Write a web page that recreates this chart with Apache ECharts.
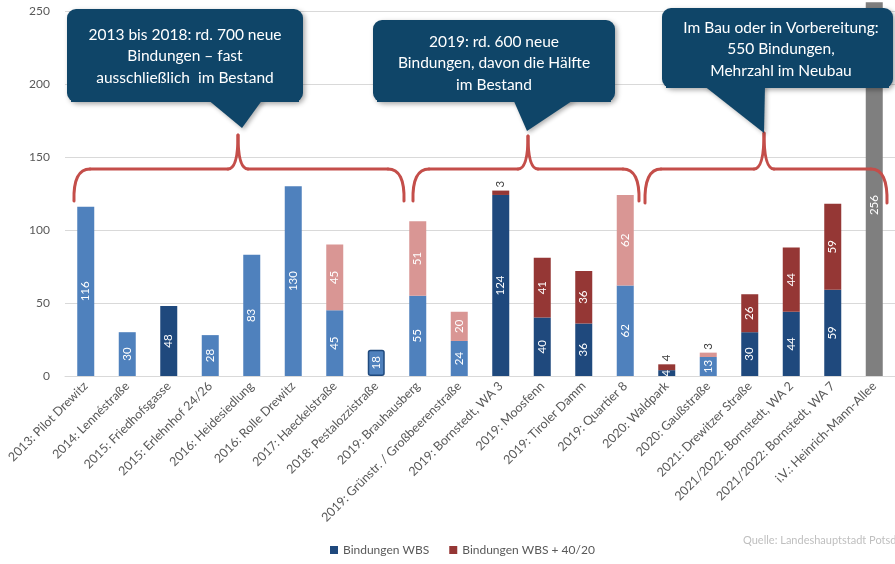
<!DOCTYPE html>
<html>
<head>
<meta charset="utf-8">
<script src="https://cdn.jsdelivr.net/npm/echarts@6/dist/echarts.min.js"></script>
<style>
  html, body { margin: 0; padding: 0; background: #fff; }
  #chart { width: 895px; height: 564px; }
</style>
</head>
<body>
<div id="chart"></div>
<script>
// ---- data ----
const categories = [
  '2013: Pilot Drewitz', '2014: Lennéstraße', '2015: Friedhofsgasse', '2015: Erlehnhof 24/26',
  '2016: Heidesiedlung', '2016: Rolle Drewitz', '2017: Haeckelstraße', '2018: Pestalozzistraße',
  '2019: Brauhausberg', '2019: Grünstr. / Großbeerenstraße', '2019: Bornstedt, WA 3', '2019: Moosfenn',
  '2019: Tiroler Damm', '2019: Quartier 8', '2020: Waldpark', '2020: Gaußstraße',
  '2021: Drewitzer Straße', '2021/2022: Bornstedt, WA 2', '2021/2022: Bornstedt, WA 7', 'i.V.: Heinrich-Mann-Allee'
];
const wbs      = [116, 30, 48, 28, 83, 130, 45, 18, 55, 24, 124, 40, 36, 62, 4, 13, 30, 44, 59, 256];
const wbsPlus  = [null, null, null, null, null, null, 45, null, 51, 20, 3, 41, 36, 62, 4, 3, 26, 44, 59, null];
// project type: B = Bestand, N = Neubau, BN = mixed, V = in Vorbereitung
const projectType = ['B','B','N','B','B','B','B','BN','B','B','N','N','N','B','N','B','N','N','N','V'];
const yTicks = [0, 50, 100, 150, 200, 250];
const seriesNames = ['Bindungen WBS', 'Bindungen WBS + 40/20'];
const callouts = [
  '2013 bis 2018: rd. 700 neue\nBindungen – fast\nausschließlich  im Bestand',
  '2019: rd. 600 neue\nBindungen, davon die Hälfte\nim Bestand',
  'Im Bau oder in Vorbereitung:\n550 Bindungen,\nMehrzahl im Neubau'
];
const sourceText = 'Quelle: Landeshauptstadt Potsdam';

// ---- styles ----
const FONT = 'Lato, "Liberation Sans", sans-serif';
const C = {
  lightBlue: '#4F81BD', darkBlue: '#1F497D', pink: '#D99694', darkRed: '#953735', gray: '#7F7F7F',
  box: '#0F4568', brace: '#C44E4A', text: '#595959'
};

const wbsData = wbs.map((v, i) => {
  const t = projectType[i];
  const it = { value: v, itemStyle: {} };
  if (t === 'N') it.itemStyle.color = C.darkBlue;
  else if (t === 'V') {
    it.itemStyle.color = C.gray;
    it.label = { position: 'inside', offset: [-16, 0] };
  }
  else if (t === 'BN') { it.itemStyle.color = C.lightBlue; it.itemStyle.borderColor = C.darkBlue; it.itemStyle.borderWidth = 1.5; it.itemStyle.borderRadius = 2; }
  else it.itemStyle.color = C.lightBlue;
  return it;
});
const plusData = wbsPlus.map((v, i) => {
  if (v == null) return '-';
  const t = projectType[i];
  const it = { value: v, itemStyle: { color: t === 'N' ? C.darkRed : C.pink } };
  if (v <= 5) {
    it.label = { position: 'top', distance: 3, color: '#404040', align: 'left', verticalAlign: 'middle' };
  }
  return it;
});

const labelBase = {
  show: true, position: 'inside', rotate: 90, color: '#fff', fontFamily: FONT, fontSize: 11.5
};

function brace(x1, x2, xc, yLine, yEnd, yPeak) {
  const st = { stroke: C.brace, lineWidth: 3, fill: null, lineCap: 'round' };
  const r = 16;
  const els = [
    { type: 'bezierCurve', shape: { x1: x1, y1: yEnd, x2: x1 + r, y2: yLine, cpx1: x1 - 1, cpy1: yLine } },
    { type: 'line', shape: { x1: x1 + r, y1: yLine, x2: xc - 10, y2: yLine } },
    { type: 'bezierCurve', shape: { x1: xc - 10, y1: yLine, x2: xc, y2: yPeak, cpx1: xc, cpy1: yLine } },
    { type: 'bezierCurve', shape: { x1: xc, y1: yPeak, x2: xc + 10, y2: yLine, cpx1: xc, cpy1: yLine } },
    { type: 'line', shape: { x1: xc + 10, y1: yLine, x2: x2 - r, y2: yLine } },
    { type: 'bezierCurve', shape: { x1: x2 - r, y1: yLine, x2: x2, y2: yEnd, cpx1: x2 + 1, cpy1: yLine } }
  ];
  els.forEach(e => { e.style = st; e.z = 90; });
  return { type: 'group', children: els };
}

function callout(i, rect, tri, cx, ty) {
  return {
    type: 'group',
    children: [
      { type: 'rect', z: 100, shape: { x: rect[0], y: rect[1], width: rect[2], height: rect[3], r: 9 },
        style: { fill: C.box, shadowBlur: 5, shadowOffsetX: 2, shadowOffsetY: 2, shadowColor: 'rgba(0,0,0,0.35)' } },
      { type: 'polygon', z: 100, shape: { points: tri },
        style: { fill: C.box, shadowBlur: 4, shadowOffsetX: 2, shadowOffsetY: 2, shadowColor: 'rgba(0,0,0,0.3)' } },
      { type: 'rect', z: 101, shape: { x: rect[0] + 4, y: rect[1] + rect[3] - 10, width: rect[2] - 8, height: 10 },
        style: { fill: C.box } },
      { type: 'text', z: 102, style: { x: cx, y: ty, text: callouts[i], fill: '#fff', font: '15.5px ' + FONT,
        align: 'center', verticalAlign: 'top', lineHeight: 21.5 } }
    ]
  };
}

const chart = echarts.init(document.getElementById('chart'), null, { renderer: 'canvas' });
chart.setOption({
  animation: false,
  backgroundColor: '#fff',
  grid: { left: 65, top: 11, width: 836, height: 365, containLabel: false },
  xAxis: {
    type: 'category', data: categories,
    axisLine: { lineStyle: { color: '#D9D9D9' } },
    axisTick: { show: false },
    axisLabel: { interval: 0, rotate: 45, margin: 8, color: C.text, fontFamily: FONT, fontSize: 12.5 }
  },
  yAxis: {
    type: 'value', min: yTicks[0], max: yTicks[yTicks.length - 1], interval: 50,
    axisLine: { show: false }, axisTick: { show: false },
    splitLine: { lineStyle: { color: '#D9D9D9' } },
    axisLabel: { color: C.text, fontFamily: FONT, fontSize: 12, margin: 15 }
  },
  legend: {
    data: seriesNames, left: 330, top: 544, padding: 0, icon: 'rect', itemWidth: 8, itemHeight: 8, itemGap: 20,
    textStyle: { color: C.text, fontFamily: FONT, fontSize: 12 }
  },
  series: [
    { name: seriesNames[0], type: 'bar', stack: 'a', barWidth: 17, clip: false, color: C.darkBlue,
      data: wbsData, label: labelBase },
    { name: seriesNames[1], type: 'bar', stack: 'a', barWidth: 17, color: C.darkRed,
      data: plusData, label: labelBase }
  ],
  graphic: [
    brace(74, 404, 238, 169, 201, 135),
    brace(413, 639, 528, 169, 201, 136),
    brace(645, 887, 764, 169, 203, 133),
    callout(0, [67, 9, 236, 93], [[207, 99], [263, 99], [242, 128]], 185, 24),
    callout(1, [373, 20, 242, 82], [[513, 99], [575, 99], [527, 131]], 494, 31),
    callout(2, [662, 8, 231, 80], [[703, 85], [765, 85], [764, 133]], 781, 17),
    { type: 'text', z: 100, style: { x: 743, y: 540, text: sourceText, fill: '#BFBFBF',
      font: '11px ' + FONT, verticalAlign: 'middle' } }
  ]
});
</script>
</body>
</html>
